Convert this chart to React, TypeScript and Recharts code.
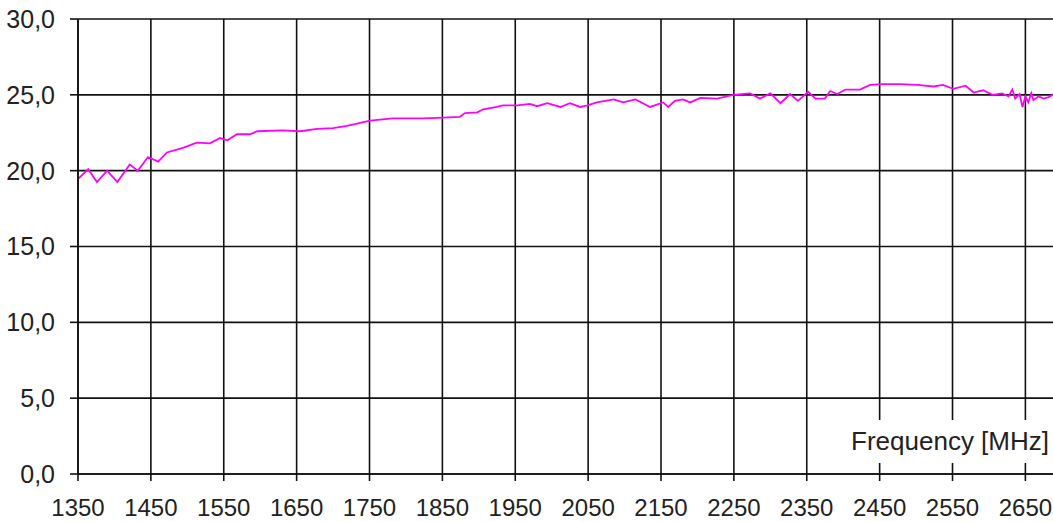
import { LineChart, Line, XAxis, YAxis, CartesianGrid } from 'recharts';

const freqs = [
  1350, 1364, 1376, 1390, 1404, 1421, 1432, 1446, 1460, 1472, 1494, 1513, 1531, 1545, 1555, 1568,
  1586, 1596, 1631, 1655, 1678, 1700, 1719, 1751, 1782, 1824, 1851, 1874, 1881, 1898, 1906, 1925,
  1933, 1953, 1970, 1980, 1994, 2012, 2025, 2039, 2049, 2062, 2085, 2098, 2115, 2135, 2153, 2160,
  2169, 2180, 2190, 2204, 2227, 2249, 2272, 2286, 2300, 2314, 2327, 2338, 2352, 2362, 2375, 2382,
  2392, 2403, 2423, 2437, 2454, 2478, 2502, 2524, 2537, 2551, 2568, 2579, 2592, 2605, 2618, 2627,
  2632, 2636, 2642, 2646, 2650, 2654, 2658, 2661, 2668, 2675, 2682, 2690,
];
const values = [
  19.45, 20.1, 19.25, 20.0, 19.25, 20.4, 20.0, 20.9, 20.6, 21.2, 21.5, 21.85, 21.8, 22.15, 22.0, 22.4,
  22.4, 22.6, 22.65, 22.6, 22.75, 22.8, 22.95, 23.3, 23.45, 23.45, 23.5, 23.55, 23.8, 23.85, 24.05, 24.2,
  24.3, 24.3, 24.4, 24.25, 24.45, 24.2, 24.45, 24.2, 24.3, 24.5, 24.7, 24.5, 24.7, 24.2, 24.5, 24.2,
  24.6, 24.7, 24.5, 24.8, 24.75, 25.0, 25.1, 24.75, 25.1, 24.45, 25.05, 24.6, 25.2, 24.75, 24.75, 25.25,
  25.05, 25.35, 25.35, 25.65, 25.7, 25.7, 25.65, 25.55, 25.65, 25.4, 25.6, 25.15, 25.3, 25.0, 25.1, 24.9,
  25.35, 24.75, 25.05, 24.2, 24.9, 24.5, 25.1, 24.65, 24.9, 24.75, 24.85, 25.1,
];
const xTicks = [1350, 1450, 1550, 1650, 1750, 1850, 1950, 2050, 2150, 2250, 2350, 2450, 2550, 2650];
const yTicks = [0, 5, 10, 15, 20, 25, 30];
const xLabel = 'Frequency [MHz]';

const data = freqs.map((f, i) => ({ f, v: values[i] }));

const fam = '"Liberation Sans", Arial, sans-serif';

const App = () => {
  return (
    <div
      style={{
        position: 'absolute',
        left: 0,
        top: 0,
        width: 1053,
        height: 522,
        background: '#fff',
        overflow: 'hidden',
      }}
    >
      <LineChart width={1056} height={522} data={data} margin={{ top: 19, right: 0, left: 0, bottom: 0 }}>
        <CartesianGrid stroke="#111" strokeWidth={1.6} />
        <XAxis
          dataKey="f"
          type="number"
          domain={[1350, 2692]}
          ticks={xTicks}
          allowDataOverflow
          height={48}
          tickSize={7}
          tickMargin={18}
          tick={{ fontFamily: fam, fontSize: 24, fill: '#222' }}
          stroke="#111"
          strokeWidth={1.6}
          interval={0}
        />
        <YAxis
          domain={[0, 30]}
          ticks={yTicks}
          width={78}
          tickSize={8}
          tickMargin={15}
          tick={{ fontFamily: fam, fontSize: 25, fill: '#222' }}
          stroke="#111"
          strokeWidth={1.6}
          tickFormatter={(v: number) => v.toFixed(1).replace('.', ',')}
          interval={0}
        />
        <Line
          type="linear"
          dataKey="v"
          stroke="#ff00ff"
          strokeWidth={1.8}
          dot={false}
          isAnimationActive={false}
        />
      </LineChart>
      <div
        style={{
          position: 'absolute',
          left: 845,
          top: 420,
          width: 208,
          height: 43,
          background: '#fff',
          fontFamily: fam,
          fontSize: 26,
          color: '#222',
          textAlign: 'right',
          lineHeight: '43px',
          paddingRight: 4,
          boxSizing: 'border-box',
          whiteSpace: 'nowrap',
        }}
      >
        {xLabel}
      </div>
    </div>
  );
};

export default App;
